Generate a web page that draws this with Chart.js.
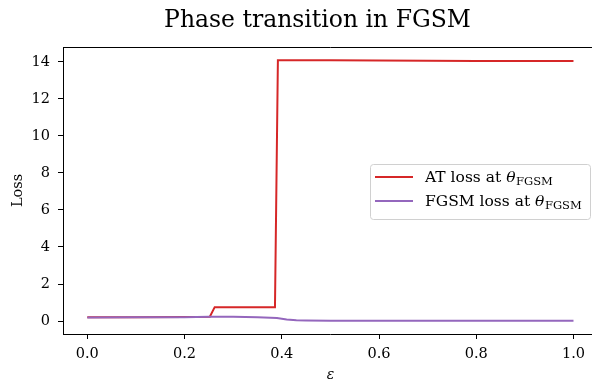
<!DOCTYPE html>
<html>
<head>
<meta charset="utf-8">
<script src="https://cdn.jsdelivr.net/npm/chart.js@4.4.1/dist/chart.umd.min.js"></script>
<style>
  html, body { margin: 0; padding: 0; background: #fff; overflow: hidden; width: 592px; height: 381px; }
  #wrap { width: 606px; height: 381px; }
</style>
</head>
<body>
<div id="wrap"><canvas id="c" width="606" height="381"></canvas></div>
<script>
// ---- data ----
const chartTitle = 'Phase transition in FGSM';
const xLabel = 'ε';
const yLabel = 'Loss';
const xTicks = [0.0, 0.2, 0.4, 0.6, 0.8, 1.0];
const yTicks = [0, 2, 4, 6, 8, 10, 12, 14];

const atEps  = [0, 0.1, 0.2, 0.252, 0.262, 0.3, 0.35, 0.386, 0.392, 0.5, 0.6, 0.7, 0.8, 0.9, 1.0];
const atLoss = [0.2, 0.21, 0.22, 0.23, 0.75, 0.75, 0.75, 0.75, 14.09, 14.08, 14.07, 14.06, 14.05, 14.05, 14.04];

const fgsmEps  = [0, 0.1, 0.2, 0.25, 0.3, 0.35, 0.39, 0.41, 0.43, 0.45, 0.5, 0.6, 0.7, 0.8, 0.9, 1.0];
const fgsmLoss = [0.19, 0.2, 0.21, 0.23, 0.23, 0.2, 0.17, 0.08, 0.04, 0.03, 0.02, 0.02, 0.02, 0.02, 0.02, 0.02];

const legendMain = ['AT loss at ', 'FGSM loss at '];
const legendSym = 'θ';
const legendSub = 'FGSM';

const RED = '#d62728';
const PURPLE = '#9467bd';
const FONT = '"DejaVu Serif", serif';

const toPts = (xs, ys) => xs.map((x, i) => ({x: x, y: ys[i]}));

const framePlugin = {
  id: 'frame',
  afterDraw(chart) {
    const ctx = chart.ctx;
    const a = chart.chartArea;
    ctx.save();
    // top spine
    ctx.strokeStyle = '#000';
    ctx.lineWidth = 1;
    ctx.beginPath();
    ctx.moveTo(a.left, a.top + 0.5);
    ctx.lineTo(a.right, a.top + 0.5);
    ctx.stroke();
    // title
    ctx.fillStyle = '#000';
    ctx.font = '23.5px ' + FONT;
    ctx.textAlign = 'center';
    ctx.textBaseline = 'alphabetic';
    ctx.fillText(chartTitle, 317.5, 27);

    // legend
    const bx = 370.5, by = 164.5, bw = 220, bh = 55, r = 3;
    ctx.beginPath();
    ctx.moveTo(bx + r, by);
    ctx.lineTo(bx + bw - r, by);
    ctx.quadraticCurveTo(bx + bw, by, bx + bw, by + r);
    ctx.lineTo(bx + bw, by + bh - r);
    ctx.quadraticCurveTo(bx + bw, by + bh, bx + bw - r, by + bh);
    ctx.lineTo(bx + r, by + bh);
    ctx.quadraticCurveTo(bx, by + bh, bx, by + bh - r);
    ctx.lineTo(bx, by + r);
    ctx.quadraticCurveTo(bx, by, bx + r, by);
    ctx.closePath();
    ctx.fillStyle = 'rgba(255,255,255,0.8)';
    ctx.fill();
    ctx.strokeStyle = '#d0d0d0';
    ctx.lineWidth = 1;
    ctx.stroke();

    const rows = [177, 201];
    chart.data.datasets.slice().sort((p, q) => p.legendIndex - q.legendIndex).forEach((ds, i) => {
      const y = rows[i];
      ctx.strokeStyle = ds.borderColor;
      ctx.lineWidth = 2;
      ctx.beginPath();
      ctx.moveTo(375, y);
      ctx.lineTo(413, y);
      ctx.stroke();
      ctx.fillStyle = '#000';
      ctx.textAlign = 'left';
      ctx.textBaseline = 'alphabetic';
      let x = 425;
      const base = y + 5;
      ctx.font = '15.5px ' + FONT;
      ctx.fillText(legendMain[i], x, base);
      x += ctx.measureText(legendMain[i]).width;
      ctx.font = 'italic 15.5px ' + FONT;
      ctx.fillText(legendSym, x, base);
      x += ctx.measureText(legendSym).width + 0.5;
      ctx.font = '11.5px ' + FONT;
      ctx.fillText(legendSub, x, base + 3);
    });
    ctx.restore();
  }
};

new Chart(document.getElementById('c'), {
  type: 'line',
  data: {
    datasets: [
      { label: legendMain[0] + legendSym + legendSub, data: toPts(atEps, atLoss), borderColor: RED, backgroundColor: RED,
        borderWidth: 2, pointRadius: 0, tension: 0, order: 2, legendIndex: 0 },
      { label: legendMain[1] + legendSym + legendSub, data: toPts(fgsmEps, fgsmLoss), borderColor: PURPLE, backgroundColor: PURPLE,
        borderWidth: 2, pointRadius: 0, tension: 0, order: 1, legendIndex: 1 }
    ]
  },
  options: {
    responsive: false,
    animation: false,
    devicePixelRatio: 1,
    layout: { padding: { top: 47, right: 8.2, left: 0, bottom: 0 } },
    plugins: { legend: { display: false }, title: { display: false }, tooltip: { enabled: false } },
    scales: {
      x: {
        type: 'linear', min: -0.05, max: 1.05,
        afterBuildTicks: s => { s.ticks = xTicks.map(v => ({value: v})); },
        afterFit: s => { s.height = 47; },
        grid: { drawOnChartArea: false, drawTicks: true, tickLength: 5, color: '#000' },
        border: { display: true, color: '#000', width: 1 },
        ticks: { color: '#000', font: { family: FONT, size: 14.5 }, padding: 7, maxRotation: 0,
                 callback: v => Number(v).toFixed(1) },
        title: { display: true, text: xLabel, color: '#000', font: { family: FONT, size: 14, style: 'italic', lineHeight: 1 }, padding: { top: 0, bottom: -1 } }
      },
      y: {
        type: 'linear', min: -0.7, max: 14.8,
        afterBuildTicks: s => { s.ticks = yTicks.map(v => ({value: v})); },
        afterFit: s => { s.width = 63; },
        grid: { drawOnChartArea: false, drawTicks: true, tickLength: 5, color: '#000' },
        border: { display: true, color: '#000', width: 1 },
        ticks: { color: '#000', font: { family: FONT, size: 14.5 }, padding: 8,
                 callback: v => String(v) },
        title: { display: true, text: yLabel, color: '#000', font: { family: FONT, size: 14.5, lineHeight: 1 }, padding: { top: 11, bottom: 0 } }
      }
    }
  },
  plugins: [framePlugin]
});
</script>
</body>
</html>
